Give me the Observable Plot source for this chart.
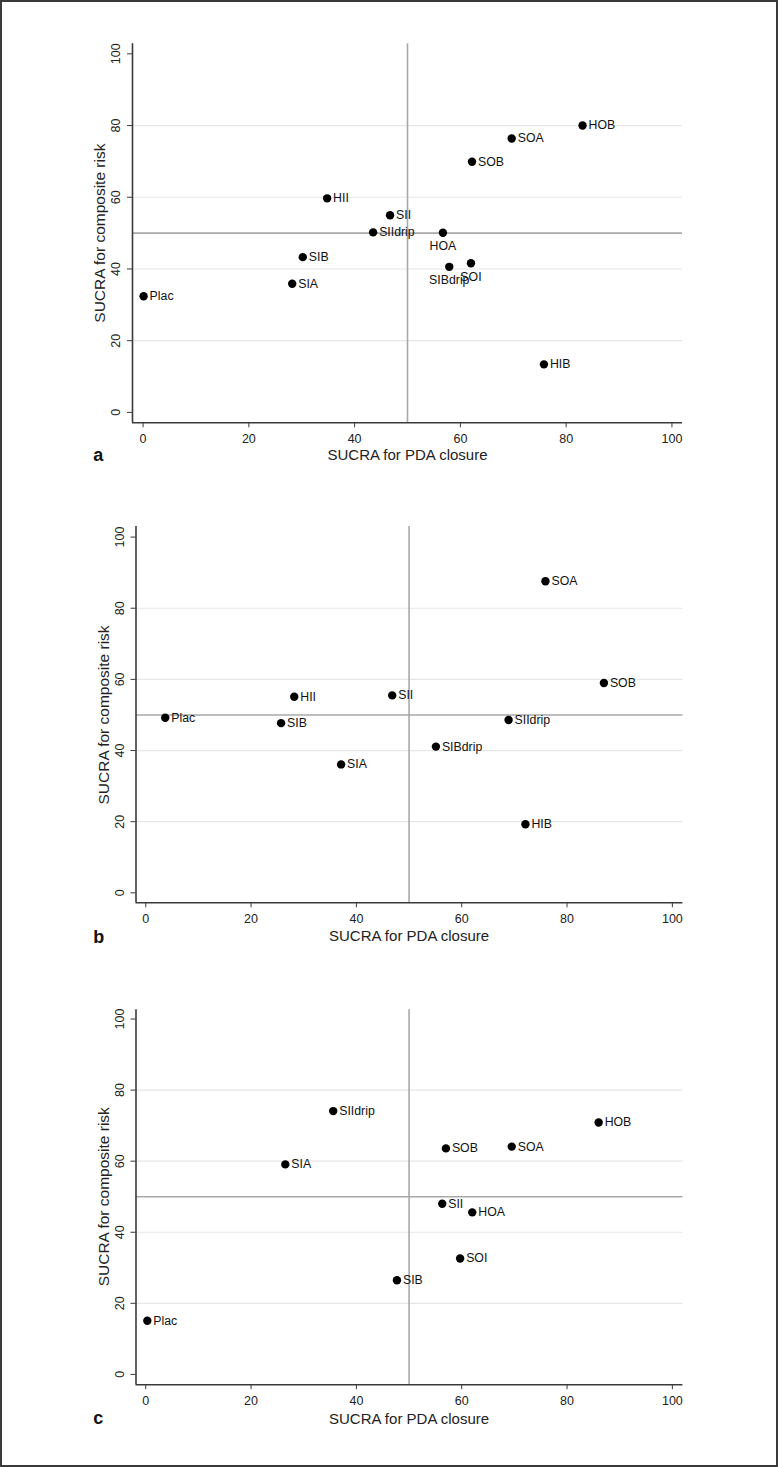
<!DOCTYPE html>
<html>
<head>
<meta charset="utf-8">
<script src="https://cdn.jsdelivr.net/npm/d3@7"></script>
<script src="https://cdn.jsdelivr.net/npm/@observablehq/plot@0.6"></script>
<style>
  html, body { margin: 0; padding: 0; background: #fff; }
  #page { position: relative; width: 778px; height: 1467px; overflow: hidden; background: #fff; }
  #border { position: absolute; left: 0; top: 0; width: 778px; height: 1467px; box-sizing: border-box; border: 2px solid #3a3a3a; pointer-events: none; }
  .panel { position: absolute; left: 0; }
</style>
</head>
<body>
<div id="page"><div id="border"></div></div>
<script>
// ---------- data ----------
const xTicks = [0, 20, 40, 60, 80, 100];
const yTicks = [0, 20, 40, 60, 80, 100];
const gridValues = [20, 40, 60, 80];
const refValue = 50;
const xTitle = "SUCRA for PDA closure";
const yTitle = "SUCRA for composite risk";

// Panel a
const treatmentsA = ["HOB", "SOA", "SOB", "HII", "SII", "SIIdrip", "HOA", "SIB", "SIBdrip", "SOI", "SIA", "Plac", "HIB"];
const pdaA        = [83.1, 69.7, 62.2, 34.8, 46.7, 43.5, 56.7, 30.2, 57.9, 62.0, 28.2, 0.1, 75.8];
const riskA       = [80.0, 76.4, 69.9, 59.7, 55.0, 50.2, 50.1, 43.3, 40.6, 41.6, 35.9, 32.4, 13.4];
const belowA      = ["HOA", "SIBdrip", "SOI"];

// Panel b
const treatmentsB = ["SOA", "SOB", "HII", "SII", "Plac", "SIB", "SIIdrip", "SIBdrip", "SIA", "HIB"];
const pdaB        = [75.9, 87.0, 28.2, 46.8, 3.7, 25.7, 68.9, 55.1, 37.1, 72.1];
const riskB       = [87.6, 59.0, 55.1, 55.5, 49.2, 47.7, 48.6, 41.1, 36.1, 19.3];
const belowB      = [];

// Panel c
const treatmentsC = ["SIIdrip", "HOB", "SOB", "SOA", "SIA", "SII", "HOA", "SOI", "SIB", "Plac"];
const pdaC        = [35.6, 86.0, 57.0, 69.5, 26.5, 56.3, 62.0, 59.7, 47.7, 0.3];
const riskC       = [74.1, 70.9, 63.6, 64.1, 59.1, 48.0, 45.6, 32.6, 26.5, 15.1];
const belowC      = [];

// ---------- drawing ----------
const FONT = "'Liberation Sans', Arial, Helvetica, sans-serif";

function makePanel(cfg) {
  const rows = cfg.names.map((n, i) => ({name: n, x: cfg.xs[i], y: cfg.ys[i], below: cfg.below.includes(n)}));
  const chart = Plot.plot({
    width: 778,
    height: cfg.height,
    marginLeft: cfg.left,
    marginRight: 778 - cfg.right,
    marginTop: cfg.top,
    marginBottom: cfg.bottom,
    style: {fontFamily: FONT, fontSize: "12.5px", color: "#222", background: "transparent", overflow: "visible"},
    x: {domain: cfg.xDomain, axis: null},
    y: {domain: cfg.yDomain, axis: null},
    marks: [
      Plot.ruleY(gridValues, {stroke: "#e6e6e6", strokeWidth: 1.2}),
      Plot.ruleY([refValue], {stroke: "#a8a8a8", strokeWidth: 1.6}),
      Plot.ruleX([refValue], {stroke: "#a8a8a8", strokeWidth: 1.6}),
      Plot.ruleX([cfg.xDomain[0]], {stroke: "#3a3a3a", strokeWidth: 1.6}),
      Plot.ruleY([cfg.yDomain[0]], {stroke: "#3a3a3a", strokeWidth: 1.6}),
      Plot.axisX({ticks: xTicks, tickSize: 5, tickPadding: 6.5, fontSize: 12.5, stroke: "#3a3a3a", fill: "#222", label: null, tickFormat: d => String(d)}),
      Plot.axisY({ticks: yTicks, tickSize: 5, tickPadding: 2, stroke: "#3a3a3a", label: null, tickFormat: () => ""}),
      Plot.text(yTicks, {y: d => d, text: d => String(d), frameAnchor: "left", dx: -16.5, rotate: -90, textAnchor: "middle", lineAnchor: "middle", fontSize: 12.5, fill: "#222"}),
      Plot.text([{y: 50, t: yTitle}], {y: "y", text: "t", frameAnchor: "left", dx: -32, rotate: -90, textAnchor: "middle", lineAnchor: "middle", fontSize: 15.5, fill: "#222"}),
      Plot.text([{x: 50, t: xTitle}], {x: "x", text: "t", frameAnchor: "bottom", dy: cfg.titleDy, textAnchor: "middle", lineAnchor: "middle", fontSize: 15, fill: "#222"}),
      Plot.text([{t: cfg.letter}], {text: "t", frameAnchor: "bottom-left", dx: cfg.letterDx, dy: cfg.letterDy, textAnchor: "start", lineAnchor: "middle", fontSize: 18, fontWeight: "bold", fill: "#111"}),
      Plot.dot(rows, {x: "x", y: "y", r: 4.2, fill: "#000", stroke: null}),
      Plot.text(rows.filter(d => !d.below), {x: "x", y: "y", text: "name", dx: 6, textAnchor: "start", lineAnchor: "middle", fontSize: 12.3, fill: "#111"}),
      Plot.text(rows.filter(d => d.below), {x: "x", y: "y", text: "name", dy: 13.5, textAnchor: "middle", lineAnchor: "middle", fontSize: 12.3, fill: "#111"})
    ]
  });
  chart.classList.add("panel");
  chart.style.top = cfg.offset + "px";
  document.getElementById("page").appendChild(chart);
}

makePanel({
  names: treatmentsA, xs: pdaA, ys: riskA, below: belowA, letter: "a",
  offset: 0, height: 480, top: 43.3, bottom: 480 - 422.3, left: 132, right: 682,
  xDomain: [-2, 102], yDomain: [-2.9, 102.8], titleDy: 32, letterDx: -39.3, letterDy: 32
});
makePanel({
  names: treatmentsB, xs: pdaB, ys: riskB, below: belowB, letter: "b",
  offset: 480, height: 480, top: 525.9 - 480, bottom: 960 - 902.3, left: 135.5, right: 682.4,
  xDomain: [-1.85, 102], yDomain: [-2.8, 103], titleDy: 33, letterDx: -42.8, letterDy: 34.5
});
makePanel({
  names: treatmentsC, xs: pdaC, ys: riskC, below: belowC, letter: "c",
  offset: 960, height: 507, top: 1009.3 - 960, bottom: 1467 - 1384.2, left: 135.5, right: 682.4,
  xDomain: [-1.85, 102], yDomain: [-2.9, 102.6], titleDy: 34.4, letterDx: -42.8, letterDy: 33.3
});
document.getElementById("page").appendChild(document.getElementById("border"));
</script>
</body>
</html>
